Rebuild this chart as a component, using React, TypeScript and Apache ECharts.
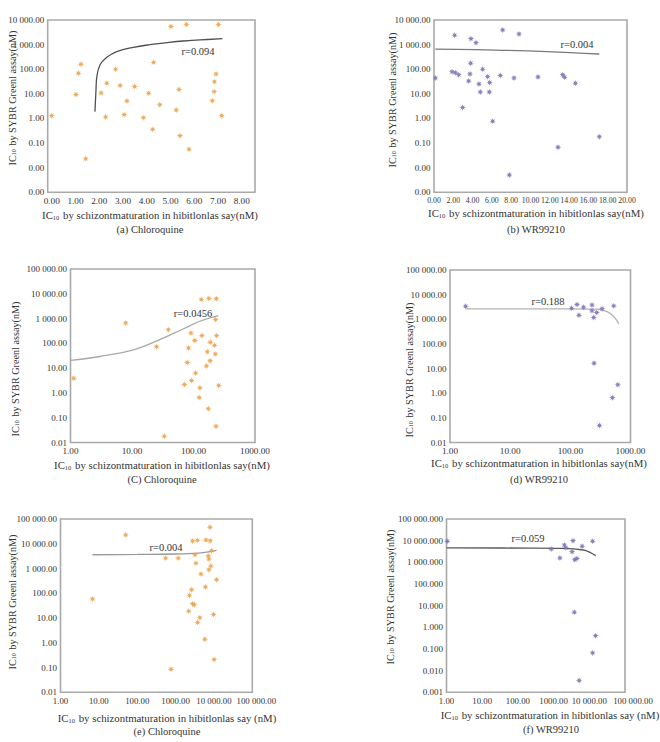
import React, { useEffect, useRef } from "react";
import * as echarts from "echarts";

// ---------- data ----------
const scatterA: number[][] = [
  [0, 1.3], [1.12, 68], [1.23, 158], [1.02, 9.5], [1.43, 0.023], [2.08, 10.8], [2.27, 1.15], [2.32, 27],
  [2.69, 100], [2.88, 22], [3.05, 1.43], [3.17, 5.1], [3.49, 20], [3.86, 1.08], [4.08, 10.5], [4.25, 0.36],
  [4.29, 190], [4.55, 3.6], [5.02, 5500], [5.24, 2.2], [5.36, 15], [5.4, 0.2], [5.67, 6500], [5.78, 0.056],
  [6.76, 5.2], [6.84, 12.3], [6.85, 31], [6.92, 64], [7.02, 6600], [7.16, 1.3],
];
const trendA: number[][] = [
  [1.82, 1.9], [1.86, 12], [1.9, 50], [2.03, 149], [2.32, 305], [2.74, 518], [3.44, 776], [4.14, 1000],
  [4.84, 1200], [5.54, 1400], [6.25, 1550], [7.19, 1740],
];
const scatterB: number[][] = [
  [0.14, 44], [1.87, 79], [2.21, 72], [2.14, 2400], [2.56, 60], [2.97, 2.8], [3.59, 33], [3.73, 64],
  [3.8, 175], [3.83, 1740], [4.35, 1200], [4.66, 25], [4.8, 12], [5.04, 100], [5.56, 50], [5.73, 12],
  [5.77, 29], [6.08, 0.77], [6.87, 56], [7.12, 3900], [7.81, 0.005], [8.29, 44], [8.81, 2700], [10.78, 48],
  [12.85, 0.068], [13.33, 60], [13.54, 47], [14.65, 27], [17.13, 0.18],
];
const trendB: number[][] = [[0.14, 660], [6.4, 600], [11.7, 520], [17.13, 415]];
const scatterC: number[][] = [
  [1.13, 3.9], [7.9, 656], [25, 73], [39, 355], [33.5, 0.018], [71, 2.2], [79, 17], [83, 65], [91, 264],
  [93, 3.2], [105, 131], [108, 6.3], [124, 0.66], [127, 1.6], [134, 5900], [137, 205], [162, 12.3], [168, 46],
  [174, 0.23], [178, 6500], [186, 20], [187, 110], [220, 83], [226, 37], [229, 910], [232, 0.045], [235, 6300],
  [238, 205], [257, 2.0],
];
const trendC: number[][] = [[1, 20.5], [3, 29.5], [10.5, 55], [25, 123], [68, 380], [127, 780], [253, 1320]];
const scatterD: number[][] = [
  [1.82, 3400], [105, 2800], [129, 4000], [139, 1450], [166, 3100], [229, 3800], [229, 2200], [245, 1170],
  [248, 16.6], [275, 1870], [305, 0.049], [337, 2700], [500, 0.66], [527, 3500], [615, 2.2],
];
const trendD: number[][] = [[1.82, 2640], [77, 2640], [277, 2570], [408, 2040], [527, 1290], [640, 650]];
const scatterE: number[][] = [
  [6.8, 59], [50, 22400], [550, 2630], [760, 0.085], [1170, 2630], [2200, 19], [2300, 83], [2600, 138],
  [2770, 12900], [2770, 38], [3080, 34], [3200, 3560], [3400, 1650], [3700, 13700], [3750, 6.6], [4300, 10.3],
  [4600, 600], [5800, 1.4], [6000, 180], [6200, 14100], [7100, 3240], [7400, 2440], [7400, 890], [7900, 46000],
  [8000, 13200], [8300, 1250], [8700, 5250], [9800, 14], [10100, 0.21], [11700, 350],
];
const trendE: number[][] = [[6.8, 3600], [100, 3700], [1000, 3850], [4000, 4200], [8000, 4800], [11700, 5400]];
const scatterF: number[][] = [
  [1.05, 9300], [860, 4100], [1500, 1580], [2000, 6300], [2200, 4700], [3300, 3100], [3500, 10000], [3800, 5],
  [3900, 1320], [4500, 1510], [5200, 0.0035], [6300, 5500], [12400, 9300], [12400, 0.066], [15000, 0.41],
];
const trendF: number[][] = [[1, 4600], [218, 4550], [1860, 4400], [6800, 3700], [10400, 2900], [15100, 2040]];

// tick values and labels
const xTicksA = [0, 1, 2, 3, 4, 5, 6, 7, 8];
const xLabelsA = ["0.00", "1.00", "2.00", "3.00", "4.00", "5.00", "6.00", "7.00", "8.00"];
const xTicksB = [0, 2, 4, 6, 8, 10, 12, 14, 16, 18, 20];
const xLabelsB = ["0.00", "2.00", "4.00", "6.00", "8.00", "10.00", "12.00", "14.00", "16.00", "18.00", "20.00"];
const yTicksAB = [0.001, 0.01, 0.1, 1, 10, 100, 1000, 10000];
const yLabelsAB = ["0.00", "0.00", "0.10", "1.00", "10.00", "100.00", "1 000.00", "10 000.00"];
const xTicksCD = [1, 10, 100, 1000];
const xLabelsCD = ["1.00", "10.00", "100.00", "1000.00"];
const yTicksCDE = [0.01, 0.1, 1, 10, 100, 1000, 10000, 100000];
const yLabelsCDE = ["0.01", "0.10", "1.00", "10.00", "100.00", "1 000.00", "10 000.00", "100 000.00"];
const xTicksEF = [1, 10, 100, 1000, 10000, 100000];
const xLabelsEF = ["1.00", "10.00", "100.00", "1000.00", "10 000.00", "100 000.00"];
const yTicksF = [0.001, 0.01, 0.1, 1, 10, 100, 1000, 10000, 100000];
const yLabelsF = ["0.001", "0.010", "0.100", "1.000", "10.000", "100.000", "1 000.000", "10 000.000", "100 000.000"];

const captions = ["(a) Chloroquine", "(b) WR99210", "(C) Chloroquine", "(d) WR99210", "(e) Chloroquine", "(f) WR99210"];
const rLabels = ["r=0.094", "r=0.004", "r=0.0456", "r=0.188", "r=0.004", "r=0.059"];
const xNames = [
  "IC{s|10} by schizontmaturation in hibitlonlas say(nM)",
  "IC{s|10} by schizontmaturation in hibitlonlas say(nM)",
  "IC{s|10} by schizontmaturation in hibitlonlas say(nM)",
  "IC{s|10} by schizontmaturation in hibitlonlas say(nM)",
  "IC{s|10} by schizontmaturation in hibitlonlas say (nM)",
  "IC{s|10} by schizontmaturation in hibitlonlas say (nM)",
];
const yName = "IC{s|10} by SYBR Greenl assay(nM)";

const FONT = "Liberation Serif";
const TXT = "#333333";
const ORANGE = "#eba24c";
const PURPLE = "#7f70b0";
const STAR =
  "path://M5,0 L5.9,3.1 L8.5,1.5 L6.9,4.1 L10,5 L6.9,5.9 L8.5,8.5 L5.9,6.9 L5,10 L4.1,6.9 L1.5,8.5 L3.1,5.9 L0,5 L3.1,4.1 L1.5,1.5 L4.1,3.1 Z";

function lookup(ticks: number[], labels: string[], log: boolean, shiftLast = false) {
  return (v: number) => {
    for (let i = 0; i < ticks.length; i++) {
      const ok = log
        ? Math.abs(Math.log10(v) - Math.log10(ticks[i])) < 0.01
        : Math.abs(v - ticks[i]) < 1e-6;
      if (ok) return shiftLast && i === ticks.length - 1 ? "{last|" + labels[i] + "}" : labels[i];
    }
    return "";
  };
}

type Panel = {
  grid: { left: number; top: number; width: number; height: number };
  xType: "value" | "log";
  xMin: number;
  xMax: number;
  xTicks: number[];
  xLabels: string[];
  yMin: number;
  yMax: number;
  yTicks: number[];
  yLabels: string[];
  scatter: number[][];
  trend: number[][];
  color: string;
  trendColor: string;
  xNamePos: [number, number];
  capPos: [number, number];
  yNamePos: [number, number];
  rPos: [number, number];
  xFont: number;
  lastPad: number;
};

const panels: Panel[] = [
  {
    grid: { left: 47.7, top: 20, width: 207.3, height: 172.3 },
    xType: "value", xMin: -0.17, xMax: 8.56, xTicks: xTicksA, xLabels: xLabelsA,
    yMin: 0.001, yMax: 10000, yTicks: yTicksAB, yLabels: yLabelsAB,
    scatter: scatterA, trend: trendA, color: ORANGE, trendColor: "#505050",
    xNamePos: [150, 215], capPos: [150, 229], yNamePos: [12, 98], rPos: [198, 51], xFont: 9.2, lastPad: 0,
  },
  {
    grid: { left: 434, top: 20, width: 193, height: 172.3 },
    xType: "value", xMin: 0, xMax: 20, xTicks: xTicksB, xLabels: xLabelsB,
    yMin: 0.001, yMax: 10000, yTicks: yTicksAB, yLabels: yLabelsAB,
    scatter: scatterB, trend: trendB, color: PURPLE, trendColor: "#7a7a7a",
    xNamePos: [536, 213], capPos: [536, 229], yNamePos: [392, 100], rPos: [577, 44], xFont: 7.8, lastPad: 0,
  },
  {
    grid: { left: 70.5, top: 269, width: 184.5, height: 173.5 },
    xType: "log", xMin: 1, xMax: 1000, xTicks: xTicksCD, xLabels: xLabelsCD,
    yMin: 0.01, yMax: 100000, yTicks: yTicksCDE, yLabels: yLabelsCDE,
    scatter: scatterC, trend: trendC, color: ORANGE, trendColor: "#a8a8a8",
    xNamePos: [162, 465], capPos: [162, 479], yNamePos: [15, 369], rPos: [193, 313], xFont: 9.2, lastPad: 0,
  },
  {
    grid: { left: 450, top: 270, width: 180.5, height: 172.5 },
    xType: "log", xMin: 1, xMax: 1000, xTicks: xTicksCD, xLabels: xLabelsCD,
    yMin: 0.01, yMax: 100000, yTicks: yTicksCDE, yLabels: yLabelsCDE,
    scatter: scatterD, trend: trendD, color: PURPLE, trendColor: "#b4b4b4",
    xNamePos: [539, 463], capPos: [539, 479], yNamePos: [409, 370], rPos: [548, 301], xFont: 9.2, lastPad: 0,
  },
  {
    grid: { left: 60.5, top: 519, width: 191.8, height: 173.3 },
    xType: "log", xMin: 1, xMax: 100000, xTicks: xTicksEF, xLabels: xLabelsEF,
    yMin: 0.01, yMax: 100000, yTicks: yTicksCDE, yLabels: yLabelsCDE,
    scatter: scatterE, trend: trendE, color: ORANGE, trendColor: "#9a9a9a",
    xNamePos: [167, 718], capPos: [167, 731], yNamePos: [12, 602], rPos: [166, 547], xFont: 8.8, lastPad: 8,
  },
  {
    grid: { left: 446.5, top: 519, width: 178.5, height: 173.3 },
    xType: "log", xMin: 1, xMax: 100000, xTicks: xTicksEF, xLabels: xLabelsEF,
    yMin: 0.001, yMax: 100000, yTicks: yTicksF, yLabels: yLabelsF,
    scatter: scatterF, trend: trendF, color: PURPLE, trendColor: "#5a5a5a",
    xNamePos: [550, 715], capPos: [551, 729], yNamePos: [390, 597], rPos: [528, 538], xFont: 8.8, lastPad: 16,
  },
];

const richSub = (size: number) => ({
  s: { fontSize: size * 0.6, fontFamily: FONT, fill: TXT, verticalAlign: "bottom" as const, padding: [0, 1, 0, 0] },
});

function textEl(text: string, x: number, y: number, size: number, rotate = false, rich = false) {
  return {
    type: "text",
    x,
    y,
    rotation: rotate ? Math.PI / 2 : 0,
    silent: true,
    style: {
      text,
      fontSize: size,
      fontFamily: FONT,
      fill: TXT,
      align: "center",
      verticalAlign: "middle",
      rich: rich ? richSub(size) : undefined,
    },
  };
}

export default function App() {
  const ref = useRef<HTMLDivElement>(null);
  useEffect(() => {
    document.body.style.margin = "0";
    if (!ref.current) return;
    const chart = echarts.init(ref.current, undefined, { renderer: "svg" });

    const grid = panels.map((p) => ({
      ...p.grid,
      show: true,
      borderColor: "#a9a9a9",
      borderWidth: 1.6,
      backgroundColor: "transparent",
      containLabel: false,
      outerBoundsMode: "none",
    }));

    const xAxis = panels.map((p, i) => ({
      type: p.xType,
      gridIndex: i,
      min: p.xMin,
      max: p.xMax,
      ...(p.xType === "log" ? { logBase: 10 } : {}),
      axisLine: { show: false },
      axisTick: { show: false },
      splitLine: { show: false },
      axisLabel: {
        ...(p.xType === "value" ? { customValues: p.xTicks } : {}),
        formatter: lookup(p.xTicks, p.xLabels, p.xType === "log", p.lastPad > 0),
        fontFamily: FONT,
        fontSize: p.xFont,
        color: TXT,
        margin: 4,
        hideOverlap: false,
        rich: {
          last: { fontFamily: FONT, fontSize: p.xFont, color: TXT, padding: [0, 0, 0, p.lastPad] },
        },
      },
    }));

    const yAxis = panels.map((p, i) => ({
      type: "log",
      logBase: 10,
      gridIndex: i,
      min: p.yMin,
      max: p.yMax,
      axisLine: { show: false },
      axisTick: { show: false },
      splitLine: { show: false },
      axisLabel: {
        formatter: lookup(p.yTicks, p.yLabels, true),
        fontFamily: FONT,
        fontSize: 9,
        color: TXT,
        margin: 3.5,
        hideOverlap: false,
      },
    }));

    const series: any[] = [];
    panels.forEach((p, i) => {
      series.push({
        type: "line",
        xAxisIndex: i,
        yAxisIndex: i,
        data: p.trend,
        smooth: 0.4,
        showSymbol: false,
        symbol: "none",
        lineStyle: { color: p.trendColor, width: 1.3 },
        silent: true,
        z: 2,
      });
      series.push({
        type: "scatter",
        xAxisIndex: i,
        yAxisIndex: i,
        data: p.scatter,
        symbol: STAR,
        symbolSize: 6.5,
        itemStyle: { color: p.color, opacity: 0.9 },
        silent: true,
        z: 3,
      });
    });

    const graphic: any[] = [];
    panels.forEach((p, i) => {
      graphic.push(textEl(xNames[i], p.xNamePos[0], p.xNamePos[1], 10.8, false, true));
      graphic.push(textEl(captions[i], p.capPos[0], p.capPos[1], 10.5));
      graphic.push(textEl(yName, p.yNamePos[0], p.yNamePos[1], 10.2, true, true));
      graphic.push(textEl(rLabels[i], p.rPos[0], p.rPos[1], 10.5));
    });

    chart.setOption({
      animation: false,
      backgroundColor: "#ffffff",
      grid,
      xAxis,
      yAxis,
      series,
      graphic,
    });
    return () => chart.dispose();
  }, []);
  return <div ref={ref} style={{ width: 660, height: 742 }} />;
}
